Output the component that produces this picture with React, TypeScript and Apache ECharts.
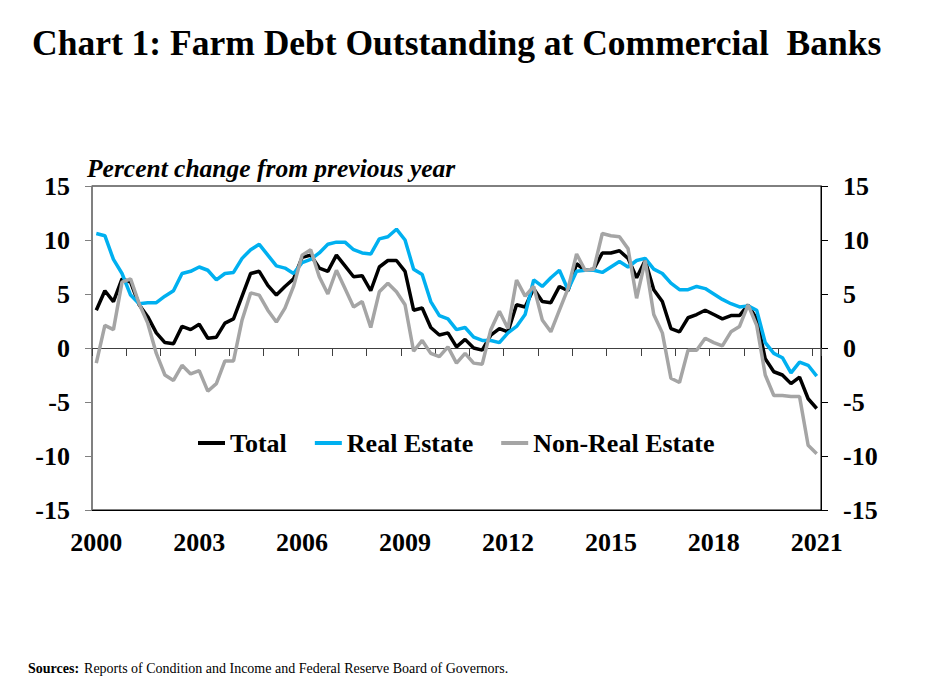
import React, { useEffect, useRef } from 'react';
import * as echarts from 'echarts';

// quarterly, 2000Q1 .. 2021Q1
const quarters: string[] = [];
for (let y = 2000; y <= 2021; y++) {
  for (let q = 1; q <= 4; q++) {
    if (y === 2021 && q > 1) break;
    quarters.push(`${y}Q${q}`);
  }
}

const total = [
  3.5, 5.3, 4.3, 6.4, 6.1, 4.0, 2.9, 1.4, 0.5, 0.4,
  2.0, 1.7, 2.2, 0.9, 1.0, 2.3, 2.7, 4.8, 6.9, 7.1,
  5.8, 4.9, 5.7, 6.4, 8.4, 8.6, 7.4, 7.1, 8.6, 7.6,
  6.6, 6.7, 5.3, 7.5, 8.1, 8.1, 7.1, 3.5, 3.7, 1.9,
  1.2, 1.4, 0.1, 0.8, 0.0, -0.2, 1.2, 1.8, 1.5, 4.0,
  3.8, 5.5, 4.3, 4.2, 5.7, 5.3, 7.8, 7.2, 7.3, 8.8,
  8.8, 9.0, 8.3, 6.5, 8.1, 5.4, 4.3, 1.8, 1.5, 2.8,
  3.1, 3.5, 3.1, 2.7, 3.0, 3.0, 4.0, 2.7, -1.0, -2.2,
  -2.5, -3.3, -2.7, -4.7, -5.6,
];

const realEstate = [
  10.6, 10.4, 8.2, 6.9, 4.9, 4.1, 4.2, 4.2, 4.8, 5.3,
  6.9, 7.1, 7.5, 7.2, 6.3, 6.9, 7.0, 8.3, 9.1, 9.6,
  8.6, 7.6, 7.4, 6.9, 7.9, 8.2, 8.8, 9.6, 9.8, 9.8,
  9.1, 8.8, 8.7, 10.1, 10.3, 11.0, 10.0, 7.3, 6.8, 4.3,
  3.0, 2.7, 1.7, 1.9, 1.0, 0.7, 0.7, 0.5, 1.4, 2.0,
  3.1, 6.3, 5.7, 6.5, 7.2, 5.4, 7.1, 7.2, 7.2, 7.0,
  7.5, 8.0, 7.5, 8.1, 8.3, 7.3, 6.9, 6.0, 5.4, 5.4,
  5.7, 5.5, 5.0, 4.5, 4.1, 3.8, 3.9, 3.5, 0.5, -0.5,
  -0.9, -2.3, -1.3, -1.6, -2.6,
];

const nonRealEstate = [
  -1.4, 2.1, 1.7, 6.1, 6.4, 4.1, 2.3, -0.5, -2.5, -3.0,
  -1.6, -2.4, -2.1, -4.0, -3.3, -1.2, -1.2, 2.6, 5.1, 4.9,
  3.5, 2.4, 3.7, 5.7, 8.6, 9.1, 6.6, 5.0, 7.2, 5.5,
  3.8, 4.3, 1.9, 5.2, 6.0, 5.2, 4.0, -0.3, 0.7, -0.5,
  -0.8, 0.1, -1.4, -0.5, -1.4, -1.5, 1.7, 3.4, 1.8, 6.3,
  4.8, 5.7, 2.6, 1.5, 3.5, 5.5, 8.7, 7.2, 7.3, 10.6,
  10.4, 10.3, 9.2, 4.6, 8.1, 3.1, 1.4, -2.8, -3.2, -0.2,
  -0.2, 0.9, 0.5, 0.2, 1.5, 2.0, 4.0, 2.1, -2.5, -4.4,
  -4.4, -4.5, -4.5, -9.0, -9.8,
];

const FONT = '"Times New Roman", "Liberation Serif", serif';

const App: React.FC = () => {
  const chartRef = useRef<HTMLDivElement>(null);

  useEffect(() => {
    if (!chartRef.current) return;
    const chart = echarts.init(chartRef.current, undefined, { renderer: 'svg' });

    const yLabel = {
      fontFamily: FONT,
      fontSize: 26,
      fontWeight: 'bold' as const,
      color: '#000',
      margin: 22,
    };

    const option = {
      animation: false,
      backgroundColor: '#fff',
      title: [
        {
          text: 'Chart 1: Farm Debt Outstanding at Commercial  Banks',
          left: 32,
          top: 25,
          padding: 0,
          textStyle: { fontFamily: FONT, fontSize: 35.5, fontWeight: 'bold', color: '#000' },
        },
        {
          text: 'Percent change from previous year',
          left: 87,
          top: 155,
          padding: 0,
          textStyle: {
            fontFamily: FONT,
            fontSize: 25.5,
            fontStyle: 'italic',
            fontWeight: 'bold',
            color: '#000',
          },
        },
        {
          text: '{b|Sources:} {r|Reports of Condition and Income and Federal Reserve Board of Governors.}',
          left: 28,
          top: 659,
          padding: 0,
          textStyle: {
            rich: {
              b: { fontFamily: FONT, fontSize: 14, fontWeight: 'bold', color: '#000' },
              r: { fontFamily: FONT, fontSize: 14, fontWeight: 'normal', color: '#000' },
            },
          },
        },
      ],
      legend: {
        left: 193,
        top: 425,
        icon: 'rect',
        itemWidth: 27,
        itemHeight: 4,
        itemGap: 28,
        textStyle: { fontFamily: FONT, fontSize: 26, fontWeight: 'bold', color: '#000' },
        data: ['Total', 'Real Estate', 'Non-Real Estate'],
      },
      grid: {
        left: 92,
        right: 104,
        top: 186,
        bottom: 183,
        show: true,
        borderColor: '#000',
        borderWidth: 1,
      },
      xAxis: [
        {
          type: 'category',
          data: quarters,
          boundaryGap: true,
          axisLine: { show: true, onZero: true, lineStyle: { color: '#404040', width: 1 } },
          axisTick: { show: true, interval: 3, length: 8, lineStyle: { color: '#404040' } },
          axisLabel: { show: false },
          splitLine: { show: false },
        },
        {
          type: 'category',
          data: quarters,
          position: 'bottom',
          boundaryGap: true,
          axisLine: { show: true, onZero: false, lineStyle: { color: '#000', width: 1 } },
          axisTick: { show: false },
          axisLabel: {
            interval: 11,
            formatter: (v: string) => v.slice(0, 4),
            fontFamily: FONT,
            fontSize: 26,
            fontWeight: 'bold',
            color: '#000',
            margin: 19,
          },
          splitLine: { show: false },
        },
      ],
      yAxis: [
        {
          type: 'value',
          position: 'left',
          min: -15,
          max: 15,
          interval: 5,
          axisLine: { show: true, lineStyle: { color: '#808080', width: 1.5 } },
          axisTick: { show: true, length: 7, lineStyle: { color: '#808080' } },
          axisLabel: yLabel,
          splitLine: { show: false },
        },
        {
          type: 'value',
          position: 'right',
          min: -15,
          max: 15,
          interval: 5,
          axisLine: { show: true, lineStyle: { color: '#000', width: 1 } },
          axisTick: { show: true, length: 7, lineStyle: { color: '#000' } },
          axisLabel: yLabel,
          splitLine: { show: false },
        },
      ],
      series: [
        {
          name: 'Total',
          type: 'line',
          data: total,
          symbol: 'none',
          color: '#000000',
          lineStyle: { width: 3.5, color: '#000000' },
        },
        {
          name: 'Real Estate',
          type: 'line',
          data: realEstate,
          symbol: 'none',
          color: '#00B0F0',
          lineStyle: { width: 3.5, color: '#00B0F0' },
        },
        {
          name: 'Non-Real Estate',
          type: 'line',
          data: nonRealEstate,
          symbol: 'none',
          color: '#A5A5A5',
          lineStyle: { width: 3.5, color: '#A5A5A5' },
        },
      ],
    };

    chart.setOption(option);

    return () => {
      chart.dispose();
    };
  }, []);

  return (
    <div style={{ position: 'absolute', left: 0, top: 0, background: '#fff' }}>
      <div ref={chartRef} style={{ width: '925px', height: '693px' }} />
    </div>
  );
};

export default App;
